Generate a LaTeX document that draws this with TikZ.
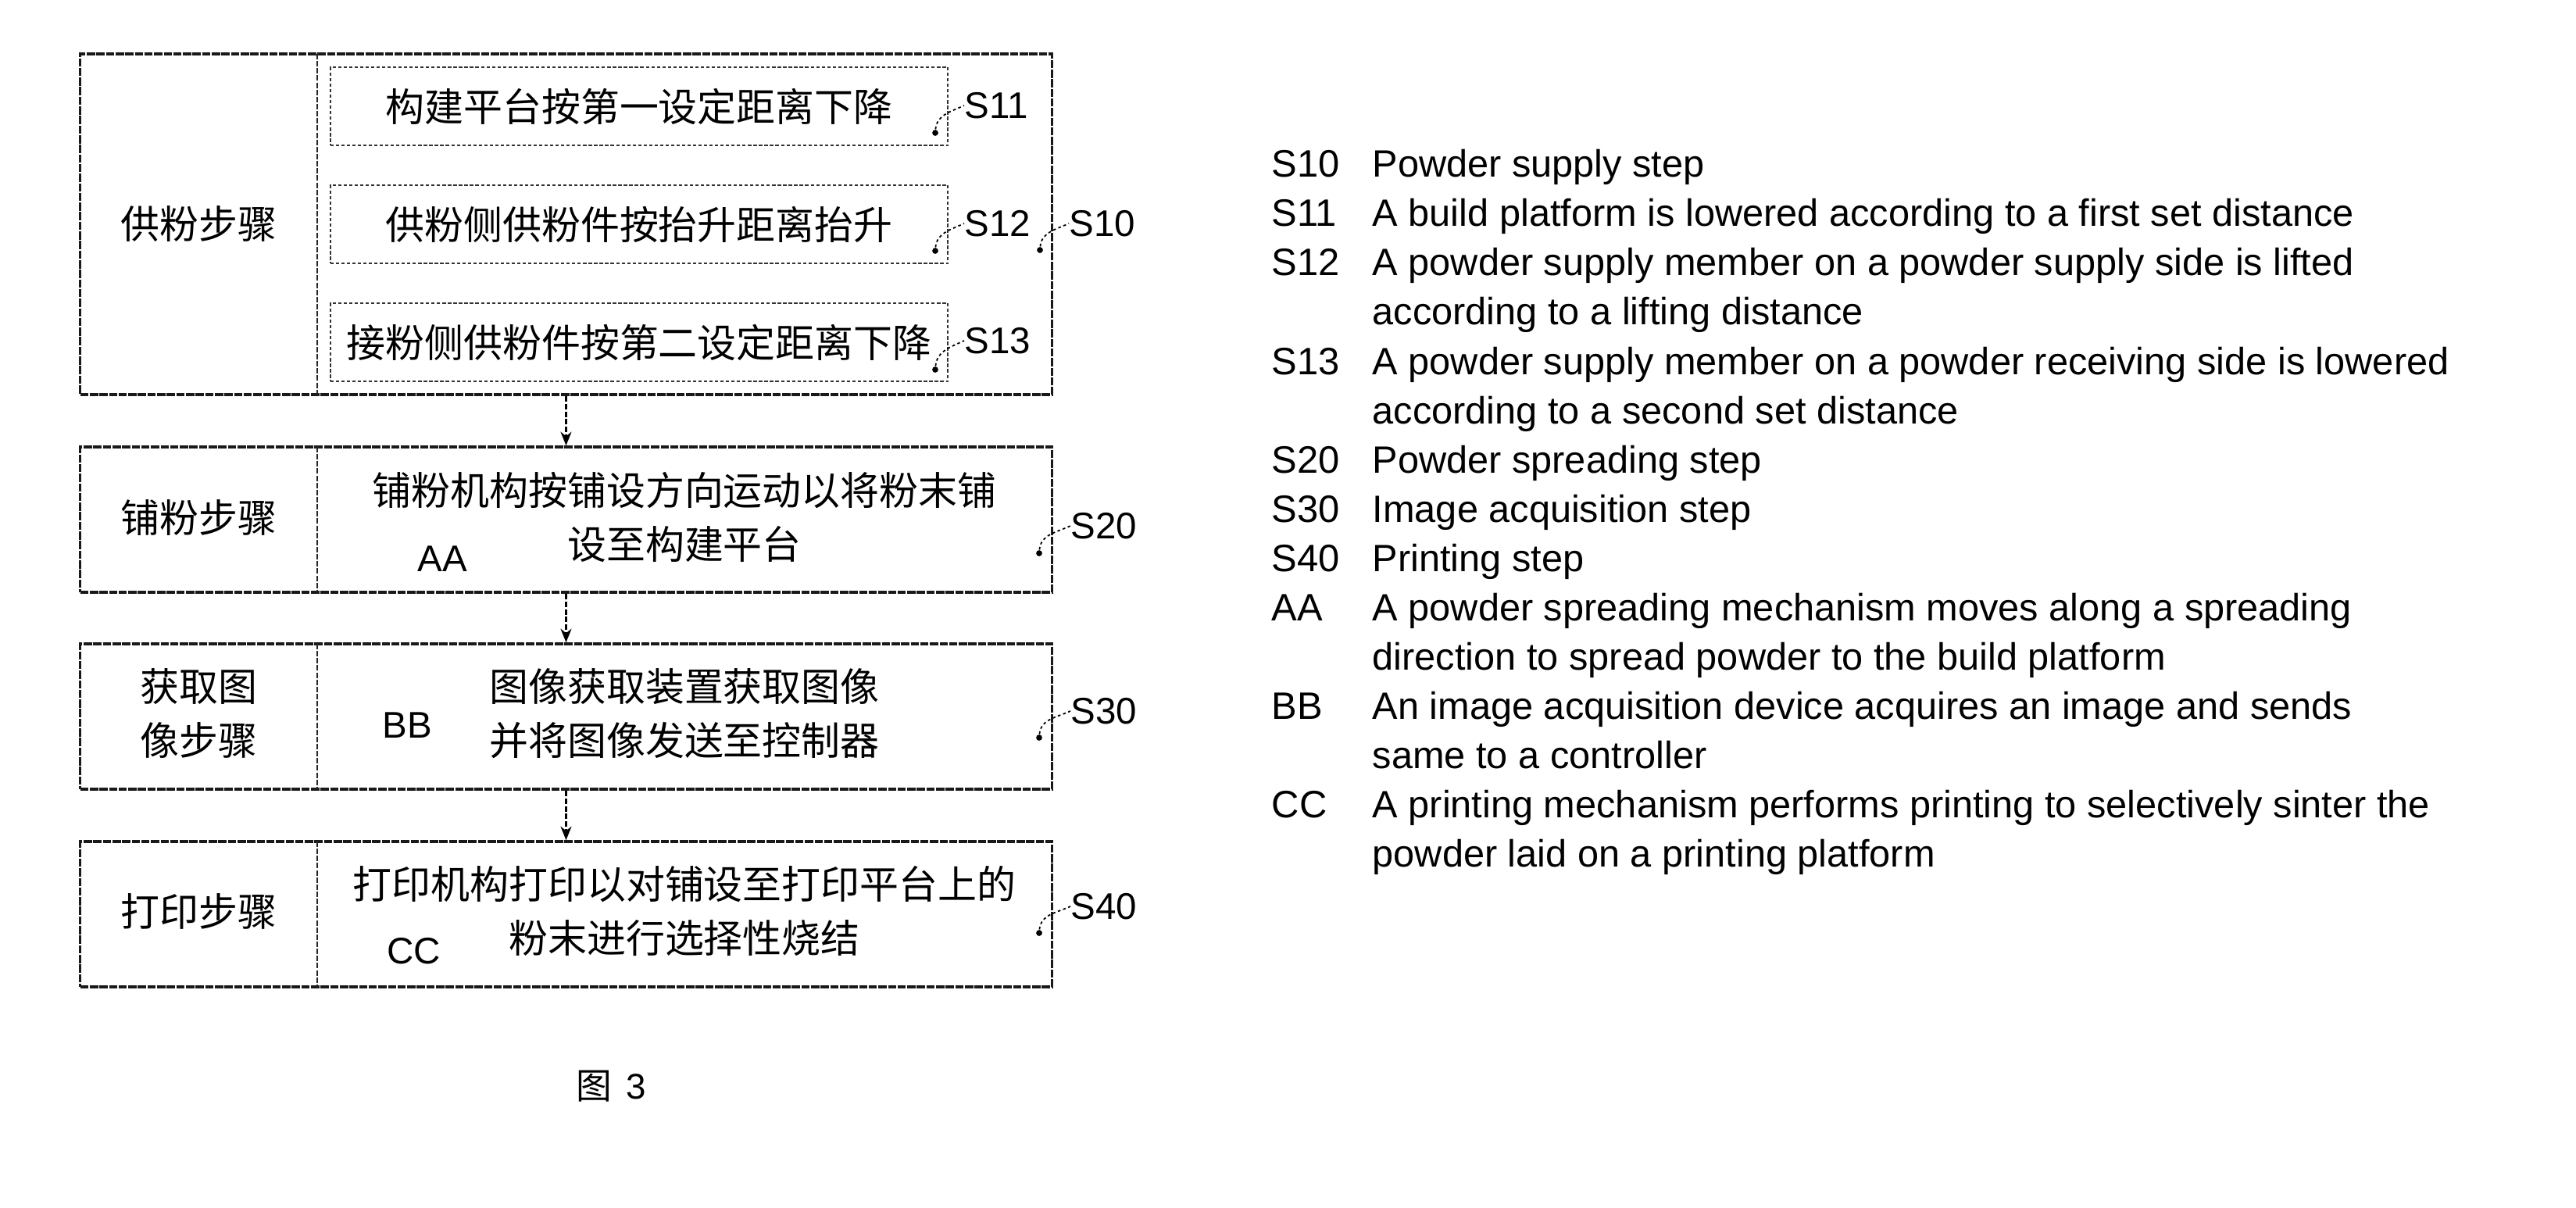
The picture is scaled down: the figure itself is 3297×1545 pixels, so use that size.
\documentclass[tikz,border=0pt]{standalone}
\usepackage{fontspec}
\setmainfont{Liberation Sans}
\newfontfamily\cjk{Noto Sans CJK SC}
\usetikzlibrary{arrows.meta}
\begin{document}
\begin{tikzpicture}[x=0.01cm,y=-0.01cm,
  outerbox/.style={draw=black!90, line width=1pt, dash pattern=on 3pt off 0.5pt, inner sep=0, rectangle},
  innerbox/.style={draw=black!80, line width=0.6pt, dash pattern=on 1.2pt off 0.8pt, inner sep=0, rectangle, minimum width=7.9cm, minimum height=1cm},
  divider/.style={draw=black!85, line width=0.7pt, dash pattern=on 2pt off 0.6pt},
  zh/.style={font=\cjk\fontsize{14.2}{19.6}\selectfont, align=center, inner sep=0},
  steplbl/.style={font=\fontsize{13.5}{16}\selectfont, anchor=west, inner sep=0},
  keylbl/.style={font=\fontsize{13.5}{16}\selectfont, inner sep=0},
  dotnode/.style={circle, fill=black, inner sep=0, minimum size=2.2pt},
  leader/.style={draw, line width=0.5pt, dash pattern=on 1pt off 1pt},
  flow/.style={draw, line width=0.6pt, dash pattern=on 2pt off 0.8pt, -{Stealth[length=5pt,width=4pt]}},
  legcode/.style={font=\fontsize{13.9}{16}\selectfont, anchor=base west, inner sep=0},
  legtext/.style={font=\fontsize{13.85}{16}\selectfont, anchor=base west, inner sep=0}
]
\useasboundingbox (0,0) rectangle (3297,1545);

% ---- step boxes ----
\node[outerbox, minimum width=12.43cm, minimum height=4.36cm] (s10) at (724.5,287) {};
\node[outerbox, minimum width=12.43cm, minimum height=1.86cm] (s20) at (724.5,665) {};
\node[outerbox, minimum width=12.43cm, minimum height=1.86cm] (s30) at (724.5,917) {};
\node[outerbox, minimum width=12.43cm, minimum height=1.86cm] (s40) at (724.5,1170) {};

\draw[divider] (406,69) -- (406,505);
\draw[divider] (406,572) -- (406,758);
\draw[divider] (406,824) -- (406,1010);
\draw[divider] (406,1077) -- (406,1263);

% left column labels
\node[zh] (l10) at (254.5,287) {供粉步骤};
\node[zh] (l20) at (254.5,663) {铺粉步骤};
\node[zh] (l30) at (254.5,913) {获取图\\像步骤};
\node[zh] (l40) at (254.5,1166) {打印步骤};

% inner sub-steps
\node[innerbox] (b11) at (818,136) {};
\node[innerbox] (b12) at (818,287) {};
\node[innerbox] (b13) at (818,438) {};
\node[zh] (t11) at (818,136) {构建平台按第一设定距离下降};
\node[zh] (t12) at (818,287) {供粉侧供粉件按抬升距离抬升};
\node[zh] (t13) at (818,438) {接粉侧供粉件按第二设定距离下降};

% right texts
\node[zh] (t20) at (876,662) {铺粉机构按铺设方向运动以将粉末铺\\设至构建平台};
\node[zh] (t30) at (876,913) {图像获取装置获取图像\\并将图像发送至控制器};
\node[zh] (t40) at (876,1166) {打印机构打印以对铺设至打印平台上的\\粉末进行选择性烧结};

\node[keylbl] (aa) at (566,715) {AA};
\node[keylbl] (bb) at (521,928) {BB};
\node[keylbl] (cc) at (530,1217) {CC};

% flow arrows
\draw[flow] (s10.south) -- (s20.north);
\draw[flow] (s20.south) -- (s30.north);
\draw[flow] (s30.south) -- (s40.north);

% reference labels with leaders
\node[steplbl] (r11) at (1234,135) {S11};
\node[steplbl] (r12) at (1234,286) {S12};
\node[steplbl] (r13) at (1234,436) {S13};
\node[steplbl] (r10) at (1368,286) {S10};
\node[steplbl] (r20) at (1370,673) {S20};
\node[steplbl] (r30) at (1370,910) {S30};
\node[steplbl] (r40) at (1370,1160) {S40};

\node[dotnode] (d11) at (1197,170) {};
\node[dotnode] (d12) at (1197,321) {};
\node[dotnode] (d13) at (1197,473) {};
\node[dotnode] (d10) at (1331,320) {};
\node[dotnode] (d20) at (1330,708) {};
\node[dotnode] (d30) at (1330,944) {};
\node[dotnode] (d40) at (1330,1194) {};

\foreach \a in {11,12,13,10,20,30,40}{
  \draw[leader] (d\a) to[out=85,in=205] (r\a.west);
}

% caption
\node[inner sep=0, font=\fontsize{13}{16}\selectfont] (fig) at (782,1390) {{\cjk 图}\hspace{0.4em}3};

% ---- legend ----
\node[legcode] (c10) at (1627,226) {S10};
\node[legcode] (c11) at (1627,289) {S11};
\node[legcode] (c12) at (1627,352) {S12};
\node[legcode] (c13) at (1627,479) {S13};
\node[legcode] (c20) at (1627,605) {S20};
\node[legcode] (c30) at (1627,668) {S30};
\node[legcode] (c40) at (1627,731) {S40};
\node[legcode] (caa) at (1627,794) {AA};
\node[legcode] (cbb) at (1627,920) {BB};
\node[legcode] (ccc) at (1627,1046) {CC};

\node[legtext] (e1) at (1756,226) {Powder supply step};
\node[legtext] (e2) at (1756,289) {A build platform is lowered according to a first set distance};
\node[legtext] (e3) at (1756,352) {A powder supply member on a powder supply side is lifted};
\node[legtext] (e4) at (1756,415) {according to a lifting distance};
\node[legtext] (e5) at (1756,479) {A powder supply member on a powder receiving side is lowered};
\node[legtext] (e6) at (1756,542) {according to a second set distance};
\node[legtext] (e7) at (1756,605) {Powder spreading step};
\node[legtext] (e8) at (1756,668) {Image acquisition step};
\node[legtext] (e9) at (1756,731) {Printing step};
\node[legtext] (e10) at (1756,794) {A powder spreading mechanism moves along a spreading};
\node[legtext] (e11) at (1756,857) {direction to spread powder to the build platform};
\node[legtext] (e12) at (1756,920) {An image acquisition device acquires an image and sends};
\node[legtext] (e13) at (1756,983) {same to a controller};
\node[legtext] (e14) at (1756,1046) {A printing mechanism performs printing to selectively sinter the};
\node[legtext] (e15) at (1756,1109) {powder laid on a printing platform};
\end{tikzpicture}
\end{document}
